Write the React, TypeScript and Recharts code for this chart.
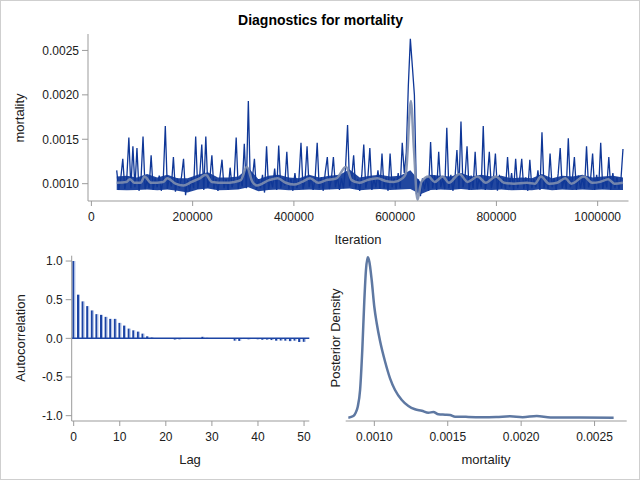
import { ComposedChart, LineChart, Line, Area, XAxis, YAxis, BarChart, Bar, ReferenceLine } from "recharts";

// mortality values are kept in units of 1e-6 (1000 = 0.0010)
const ITER_START = 50000;
const ITER_STEP = 4000;

const traceValues = [
  1150, 930, 1060, 1280, 940, 1070, 1520, 950, 1420, 960,
  1400, 920, 1050, 1530, 940, 1040, 950, 1320, 930, 1060,
  960, 1090, 920, 1050, 1650, 940, 1070, 970, 1300, 910,
  1060, 950, 1080, 1280, 870, 1040, 920, 1060, 950, 1530,
  940, 1090, 1440, 930, 1530, 960, 1060, 1320, 940, 1050,
  920, 1080, 1270, 950, 1050, 930, 1180, 960, 1060, 1520,
  940, 1070, 970, 1450, 950, 1930, 980, 1060, 1280, 930,
  1050, 950, 1100, 900, 1420, 940, 1060, 960, 1170, 930,
  1430, 950, 1060, 980, 1360, 940, 1050, 920, 1120, 950,
  1060, 1460, 940, 1040, 1420, 960, 1080, 930, 1060, 1460,
  950, 1070, 920, 1130, 1300, 940, 1050, 1300, 960, 1080,
  930, 1060, 950, 1180, 1660, 970, 1060, 1320, 940, 1050,
  920, 1090, 1440, 950, 1060, 1400, 930, 1050, 960, 1150,
  940, 1340, 950, 1070, 920, 1340, 960, 1060, 940, 1120,
  950, 1460, 1120, 1350, 2100, 2630, 2320, 2000, 880, 1050,
  860, 1060, 940, 1070, 920, 1470, 950, 1090, 930, 1360,
  960, 1060, 940, 1630, 950, 1100, 920, 1050, 1380, 940,
  1700, 960, 1070, 1420, 930, 1090, 950, 1360, 940, 1060,
  960, 1650, 930, 1070, 1360, 950, 1050, 1340, 920, 1100,
  950, 1060, 940, 1300, 960, 1120, 930, 1280, 950, 1060,
  1280, 940, 1070, 920, 1270, 950, 1050, 960, 1150, 930,
  1580, 950, 1070, 940, 1340, 960, 1060, 930, 1110, 1400,
  950, 1060, 940, 1510, 960, 1050, 1300, 930, 1090, 950,
  1070, 940, 1420, 960, 1050, 1340, 930, 1100, 950, 1460,
  940, 1060, 960, 1300, 930, 1120, 950, 1070, 940, 1050,
  1390,
];

// dense core of the chain (lower / upper edge), every 20000 iterations
const BAND_START = 50000;
const BAND_STEP = 20000;
const bandLow = [
  930, 925, 930, 935, 925, 935, 920, 900, 935, 945,
  925, 930, 935, 960, 915, 930, 935, 925, 930, 935,
  930, 935, 940, 945, 925, 935, 940, 930, 935, 940,
  880, 930, 935, 930, 940, 930, 935, 930, 935, 925,
  930, 925, 940, 925, 935, 930, 935, 930, 935, 930,
  930,
];
const bandHigh = [
  1080, 1090, 1070, 1110, 1070, 1100, 1060, 1060, 1100, 1130,
  1070, 1070, 1080, 1180, 1050, 1090, 1100, 1070, 1060, 1100,
  1070, 1090, 1100, 1160, 1070, 1090, 1100, 1080, 1090, 1150,
  1020, 1100, 1090, 1080, 1120, 1080, 1100, 1080, 1090, 1060,
  1070, 1060, 1110, 1060, 1090, 1080, 1100, 1070, 1080, 1090,
  1070,
];

const smoothIter = [
  50000, 69000, 76000, 85000, 97000, 105000, 118000, 142000, 150000, 166000,
  182000, 198000, 214000, 226000, 238000, 263000, 283000, 295000, 307000, 318000,
  327000, 351000, 368000, 384000, 400000, 416000, 432000, 448000, 464000, 484000,
  503000, 514000, 529000, 545000, 565000, 581000, 597000, 614000, 621000, 631000,
  637000, 644000, 652000, 666000, 678000, 694000, 706000, 727000, 743000, 763000,
  779000, 799000, 815000, 835000, 860000, 876000, 888000, 904000, 920000, 936000,
  948000, 973000, 989000, 1005000, 1021000, 1033000, 1050000,
];
const smoothValues = [
  1010, 1020, 1050, 1010, 1010, 1080, 1010, 1020, 1060, 1000,
  980, 1020, 1060, 1100, 1020, 1010, 1020, 1040, 1190, 1020,
  980, 1040, 1060, 1010, 990, 1020, 1060, 1010, 1040, 1060,
  1190, 1040, 1010, 1040, 1060, 1030, 1020, 1060, 1110, 1930,
  1400, 820, 1020, 1080, 1020, 1080, 1010, 1110, 1020, 1080,
  1010, 1080, 1010, 1000, 1010, 1000, 1080, 1000, 1010, 1060,
  1000, 1080, 1010, 1020, 1050, 1000, 1010,
];

const acfValues = [
  1.0, 0.565, 0.478, 0.417, 0.361, 0.313, 0.304, 0.278, 0.252, 0.252,
  0.2, 0.165, 0.126, 0.104, 0.087, 0.061, 0.026, 0.01, -0.003, -0.004,
  0.002, -0.003, -0.015, -0.012, 0.002, -0.008, 0.003, 0.002, 0.02, 0.006,
  0.002, 0.001, -0.006, 0.002, -0.003, -0.03, -0.033, 0.005, -0.012, -0.002,
  -0.012, -0.018, -0.016, -0.022, -0.03, -0.028, -0.03, -0.036, -0.03, -0.047,
  -0.045,
];

const densityX = [
  823, 857, 873, 887, 903, 918, 932, 943, 955, 966, 982, 1000, 1016, 1039,
  1073, 1107, 1141, 1187, 1232, 1277, 1323, 1368, 1402, 1436, 1482, 1516,
  1550, 1595, 1641, 1732, 1830, 1924, 2010, 2106, 2200, 2400, 2630,
];
const densityY = [
  66, 100, 166, 286, 620, 1420, 2420, 3020, 3274, 3186, 2820, 2280, 1960, 1600,
  1190, 854, 620, 420, 300, 234, 206, 166, 180, 134, 126, 120,
  86, 86, 80, 74, 78, 94, 76, 100, 72, 68, 66,
];

const iterTicks = [0, 200000, 400000, 600000, 800000, 1000000];
const mortTicks = [1000, 1500, 2000, 2500];
const acfTicks = [-1, -0.5, 0, 0.5, 1];
const lagTicks = [0, 10, 20, 30, 40, 50];

const traceData = traceValues.map((v, i) => ({ iter: ITER_START + i * ITER_STEP, trace: v }));
const bandData = bandLow.map((lo, i) => ({ iter: BAND_START + i * BAND_STEP, band: [lo, bandHigh[i]] }));
const smoothData = smoothIter.map((it, i) => ({ iter: it, smooth: smoothValues[i] }));
const acfData = acfValues.map((v, i) => ({ lag: i, acf: v }));
const densityData = densityX.map((x, i) => ({ x, d: densityY[i] }));

const FONT = "'Liberation Sans', Arial, sans-serif";
const FRAME = "#9b9b9b";
const TEXT = "#202020";
const TRACE = "#0f3797";
const tickStyle = { fontSize: 12, fill: TEXT, fontFamily: FONT };
const fmt4 = (v: number) => (v / 1e6).toFixed(4);

const NeedleBar = (props: any) => {
  const { x, y, width, height } = props;
  const top = height < 0 ? y + height : y;
  const h = Math.abs(height);
  return (
    <g>
      <rect x={x} y={top} width={width * 0.67} height={h} fill="#1c44a4" />
      <rect x={x + width * 0.67} y={top} width={width * 0.33} height={h} fill="#a9bce6" />
    </g>
  );
};

function Text({ text, x, y, rotate = false, bold = false, size = 13 }: any) {
  return (
    <div
      style={{
        position: "absolute",
        left: x,
        top: y,
        transform: `translate(-50%, -50%)${rotate ? " rotate(-90deg)" : ""}`,
        whiteSpace: "nowrap",
        fontFamily: FONT,
        fontSize: size,
        fontWeight: bold ? "bold" : "normal",
        color: bold ? "#000" : TEXT,
        lineHeight: "normal",
      }}
    >
      {text}
    </div>
  );
}

// frame edges on top/right drawn with empty mirror axes
const frameX = (
  <XAxis xAxisId="top" orientation="top" type="number" domain={[0, 1]} tick={false} tickLine={false} axisLine={{ stroke: FRAME }} height={0} />
);
const frameY = (
  <YAxis yAxisId="right" orientation="right" type="number" domain={[0, 1]} tick={false} tickLine={false} axisLine={{ stroke: FRAME }} width={0} />
);

function TracePlot() {
  return (
    <ComposedChart width={640} height={250} margin={{ top: 34, right: 11.5, bottom: 19, left: 28 }}>
      <XAxis
        dataKey="iter"
        type="number"
        domain={[-6700, 1060900]}
        ticks={iterTicks}
        tick={tickStyle}
        tickSize={5}
        tickMargin={6}
        axisLine={{ stroke: FRAME }}
        tickLine={{ stroke: FRAME }}
        height={30}
      />
      {frameX}
      <YAxis
        type="number"
        domain={[805, 2685]}
        ticks={mortTicks}
        tickFormatter={fmt4}
        tick={tickStyle}
        tickSize={6}
        tickMargin={3}
        axisLine={{ stroke: FRAME }}
        tickLine={{ stroke: FRAME }}
        width={60}
      />
      {frameY}
      <Area data={bandData} dataKey="band" type="linear" stroke="none" fill={TRACE} fillOpacity={0.92} isAnimationActive={false} />
      <Line data={traceData} dataKey="trace" type="linear" stroke={TRACE} strokeWidth={1.3} dot={false} isAnimationActive={false} />
      <Line data={smoothData} dataKey="smooth" type="monotone" stroke="#7d8dae" strokeWidth={2.5} strokeOpacity={0.9} dot={false} isAnimationActive={false} />
    </ComposedChart>
  );
}

function AcfPlot() {
  return (
    <BarChart width={320} height={230} data={acfData} barSize={3} margin={{ top: 5.7, right: 10.7, bottom: 29, left: 26.7 }}>
      <XAxis
        dataKey="lag"
        type="number"
        domain={[-0.43, 51.14]}
        ticks={lagTicks}
        tick={tickStyle}
        tickSize={5}
        tickMargin={6}
        axisLine={{ stroke: FRAME }}
        tickLine={{ stroke: FRAME }}
        height={30}
      />
      {frameX}
      <YAxis
        type="number"
        domain={[-1.069, 1.069]}
        ticks={acfTicks}
        tickFormatter={(v: number) => v.toFixed(1)}
        tick={tickStyle}
        tickSize={6}
        tickMargin={3}
        axisLine={{ stroke: FRAME }}
        tickLine={{ stroke: FRAME }}
        width={45}
      />
      {frameY}
      <ReferenceLine y={0} stroke="#1c44a4" strokeWidth={1.5} />
      <Bar dataKey="acf" shape={<NeedleBar />} isAnimationActive={false} />
    </BarChart>
  );
}

function DensityPlot() {
  return (
    <LineChart width={320} height={230} data={densityData} margin={{ top: 5, right: 13.3, bottom: 29, left: 25.7 }}>
      <XAxis
        dataKey="x"
        type="number"
        domain={[805, 2719]}
        ticks={mortTicks}
        tickFormatter={fmt4}
        tick={tickStyle}
        tickSize={5}
        tickMargin={6}
        axisLine={{ stroke: FRAME }}
        tickLine={{ stroke: FRAME }}
        height={30}
      />
      {frameX}
      <YAxis type="number" domain={[0, 3320]} tick={false} tickLine={false} axisLine={{ stroke: FRAME }} width={0} />
      {frameY}
      <Line dataKey="d" type="monotone" stroke="#5e78a2" strokeWidth={2.5} dot={false} isAnimationActive={false} />
    </LineChart>
  );
}

export default function App() {
  return (
    <div
      style={{
        position: "absolute",
        left: 0,
        top: 0,
        width: 640,
        height: 480,
        background: "#fff",
        boxShadow: "inset 0 0 0 1px #cfcfcf",
      }}
    >
      <div style={{ position: "absolute", left: 0, top: 0 }}>
        <TracePlot />
      </div>
      <div style={{ position: "absolute", left: 0, top: 250 }}>
        <AcfPlot />
      </div>
      <div style={{ position: "absolute", left: 320, top: 250 }}>
        <DensityPlot />
      </div>
      <Text text="Diagnostics for mortality" x={320.5} y={20} bold size={14} />
      <Text text="mortality" x={19} y={117.5} rotate />
      <Text text="Iteration" x={358} y={238.5} />
      <Text text="Autocorrelation" x={20} y={338} rotate />
      <Text text="Lag" x={190} y={458.5} />
      <Text text="Posterior Density" x={335} y={337.5} rotate />
      <Text text="mortality" x={486} y={458.5} />
    </div>
  );
}
